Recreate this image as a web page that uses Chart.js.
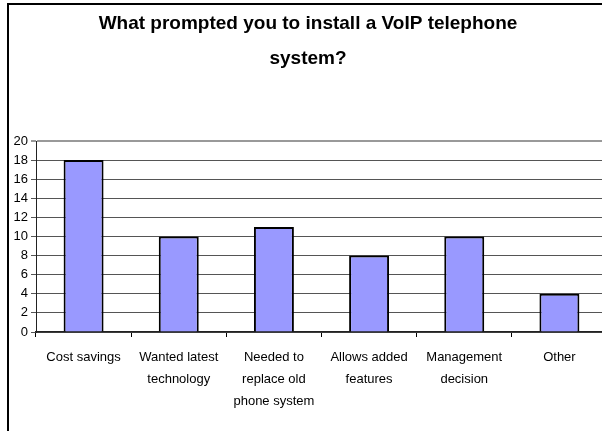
<!DOCTYPE html>
<html>
<head>
<meta charset="utf-8">
<script src="https://cdn.jsdelivr.net/npm/chart.js@4/dist/chart.umd.min.js"></script>
<style>
  html, body { margin: 0; padding: 0; background: #fff; overflow: hidden; width: 602px; height: 431px; }
  #frame {
    position: absolute; left: 7px; top: 3px;
    border-left: 2px solid #000; border-top: 2px solid #000;
    width: 598px; height: 426px;
  }
  #chart { display: block; }
</style>
</head>
<body>
<div id="frame"><canvas id="chart" width="598" height="426"></canvas></div>
<script>
// Survey: reasons for installing a VoIP phone system
const categories = [
  ['Cost savings'],
  ['Wanted latest', 'technology'],
  ['Needed to', 'replace old', 'phone system'],
  ['Allows added', 'features'],
  ['Management', 'decision'],
  ['Other']
];
const responses = [18, 10, 11, 8, 10, 4];
const yTicks = [0, 2, 4, 6, 8, 10, 12, 14, 16, 18, 20];

const titleLines = ['What prompted you to install a VoIP telephone', 'system?'];

const FONT = 'Arial, "Liberation Sans", sans-serif';

new Chart(document.getElementById('chart'), {
  type: 'bar',
  data: {
    labels: categories,
    datasets: [{
      data: responses,
      backgroundColor: '#9999FF',
      borderColor: '#000',
      borderWidth: 2,
      barPercentage: 0.42,
      categoryPercentage: 1
    }]
  },
  options: {
    responsive: false,
    animation: false,
    layout: { padding: 0 },
    plugins: {
      legend: { display: false },
      tooltip: { enabled: false },
      title: {
        display: true,
        text: titleLines,
        color: '#000',
        font: { family: FONT, size: 19, weight: 'bold', lineHeight: 35 / 19 },
        padding: { top: 1, bottom: 65 }
      }
    },
    scales: {
      x: {
        grid: { display: true, drawOnChartArea: false, drawTicks: true, tickLength: 5, color: '#000' },
        border: { color: '#222', width: 1.5 },
        ticks: {
          color: '#000',
          padding: 9,
          maxRotation: 0,
          autoSkip: false,
          font: { family: FONT, size: 13, lineHeight: 22 / 13 }
        },
        afterFit: s => { s.height = 99; }
      },
      y: {
        min: 0,
        max: 20,
        afterBuildTicks: s => { s.ticks = yTicks.map(v => ({ value: v })); },
        grid: {
          drawTicks: true,
          tickLength: 5,
          color: c => c.tick && c.tick.value === 20 ? '#999' : '#555',
          lineWidth: c => c.tick && c.tick.value === 20 ? 2 : 1
        },
        border: { color: '#222', width: 1 },
        ticks: {
          color: '#000',
          padding: 3,
          font: { family: FONT, size: 13 }
        },
        afterFit: s => { s.width = 27; }
      }
    }
  }
});
</script>
</body>
</html>
